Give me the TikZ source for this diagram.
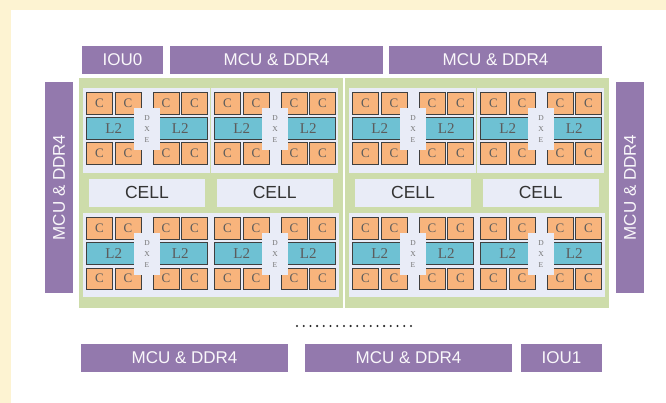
\documentclass[tikz,border=0pt]{standalone}
\usepackage{fontspec}
\setmainfont{Liberation Serif}
\setsansfont{Liberation Sans}
\usetikzlibrary{positioning}
\definecolor{kppurple}{HTML}{9379AD}
\definecolor{kpgreen}{HTML}{CDDCAA}
\definecolor{kplav}{HTML}{E9ECF7}
\definecolor{kporange}{HTML}{F8B47C}
\definecolor{kpblue}{HTML}{6EC1D3}
\definecolor{kpedge}{HTML}{3F3F3F}
\definecolor{kpyellow}{HTML}{FDF3D2}

\begin{document}
\begin{tikzpicture}[x=1pt, y=-1pt,
  memctl/.style={fill=kppurple, text=white!94!kppurple, inner sep=0pt,
                 minimum height=27.7pt, font=\sffamily\fontsize{17}{17}\selectfont},
  die/.style={fill=kpgreen, inner sep=0pt, minimum width=264pt, minimum height=230pt},
  panel/.style={fill=kplav, inner sep=0pt, minimum height=85pt},
  cbox/.style={draw=kpedge, line width=0.9pt, fill=kporange, inner sep=0pt,
               minimum width=26.1pt, minimum height=21.6pt,
               text=kpedge!85, font=\fontsize{13}{13}\selectfont},
  ltwo/.style={cbox, fill=kpblue, minimum width=54.6pt, font=\fontsize{15}{15}\selectfont},
  dxe/.style={fill=kplav, inner sep=0pt, minimum width=26pt, minimum height=42pt,
              align=center, text=black!55, font=\fontsize{7.5}{11}\selectfont},
  cellbox/.style={fill=kplav, inner sep=0pt, minimum width=116pt, minimum height=27.7pt,
                  text=black!80, font=\sffamily\fontsize{17.5}{17.5}\selectfont},
]
  % Page --------------------------------------------------------------------
  \fill[kpyellow] (0,0) rectangle (666,403);
  \fill[white] (11,10) rectangle (666,403);
  \useasboundingbox (0,0) rectangle (666,403);

  % Memory controllers and IO ----------------------------------------------
  \node[memctl, minimum width=81pt] (iou0) at (122.5,59.85) {IOU0};
  \node[memctl, minimum width=213pt] (mcutopl) at (276.5,59.85) {MCU \& DDR4};
  \node[memctl, minimum width=213pt] (mcutopr) at (495.5,59.85) {MCU \& DDR4};
  \node[memctl, rotate=90, minimum width=211pt, minimum height=28pt] (mculeft) at (59,187.5) {MCU \& DDR4};
  \node[memctl, rotate=90, minimum width=211pt, minimum height=28pt] (mcuright) at (630,187.5) {MCU \& DDR4};
  \node[memctl, minimum width=207pt] (mcubotl) at (184.5,358) {MCU \& DDR4};
  \node[memctl, minimum width=207pt] (mcubotr) at (408.5,358) {MCU \& DDR4};
  \node[memctl, minimum width=81pt] (iou1) at (561.5,358) {IOU1};

  % Dies --------------------------------------------------------------------
  \node[die] (dieleft) at (211,193) {};
  \node[die] (dieright) at (477,193) {};

  % Panels ------------------------------------------------------------------
  \node[panel, minimum width=127pt] (panel1) at (146.5,130.5) {};
  \node[panel, minimum width=127pt] (panel2) at (274.5,130.5) {};
  \node[panel, minimum width=127pt] (panel3) at (412.5,130.5) {};
  \node[panel, minimum width=127pt] (panel4) at (540.5,130.5) {};
  \node[panel, minimum width=256pt, minimum height=84.3pt] (panel5) at (211,254.85) {};
  \node[panel, minimum width=256pt, minimum height=84.3pt] (panel6) at (477,254.85) {};

  % Cells -------------------------------------------------------------------
  \node[cellbox] (cell1) at (147,192.85) {CELL};
  \node[cellbox] (cell2) at (274.7,192.85) {CELL};
  \node[cellbox] (cell3) at (413,192.85) {CELL};
  \node[cellbox] (cell4) at (540.7,192.85) {CELL};

  % Clusters ----------------------------------------------------------------
  \foreach \mx/\my/\m in {86/92/1, 214/92/2, 352/92/3, 480/92/4,
                          86/217/5, 214/217/6, 352/217/7, 480/217/8} {
    \foreach \cx [count=\i] in {13.5, 42, 80, 108.5} {
      \node[cbox] (c\m-\i) at ({\mx+\cx},{\my+11.25}) {C};
      \node[cbox] (d\m-\i) at ({\mx+\cx},{\my+61.75}) {C};
    }
    \node[ltwo] (l\m-a) at ({\mx+27.75},{\my+36.75}) {L2};
    \node[ltwo] (l\m-b) at ({\mx+94.25},{\my+36.75}) {L2};
    \node[dxe] (dxe\m) at ({\mx+61},{\my+37}) {D\\X\\E};
  }

  % More dies ---------------------------------------------------------------
  \draw[black!85, line width=2.3pt, line cap=round, dash pattern=on 0pt off 6.7pt]
    (297,326) -- (412,326);
\end{tikzpicture}
\end{document}
